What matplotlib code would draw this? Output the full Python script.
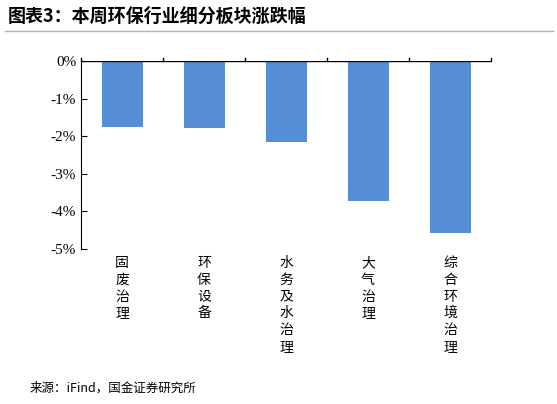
import matplotlib
matplotlib.use("Agg")
import matplotlib.pyplot as plt
from matplotlib.lines import Line2D

categories = ["固废\n治理", "环保\n设备", "水务\n及水\n治理", "大气\n治理", "综合\n环境\n治理"]
values = [-1.75, -1.78, -2.15, -3.72, -4.58]
yticks = [0, -1, -2, -3, -4, -5]

plt.rcParams['font.family'] = ['Noto Sans CJK SC', 'DejaVu Sans']
W, H = 557, 404
L, R = 81, 491
fig = plt.figure(figsize=(W/100, H/100), dpi=100)
ax = fig.add_axes([L/W, 1-249/H, (R-L)/W, (249-61)/H])
x = range(len(values))
ax.bar(x, values, width=0.5, color='#558ED5')
ax.set_xlim(-0.5, len(values)-0.5)
ax.set_ylim(-5, 0)
ax.set_yticks(yticks)
ax.set_yticklabels([f"{v}%" for v in yticks], family='Liberation Serif', fontsize=11)
ax.set_xticks([])
for s in ['top', 'right', 'bottom']:
    ax.spines[s].set_visible(False)
ax.spines['left'].set_color('black')
ax.tick_params(axis='y', direction='in', length=4)
ax.axhline(0, color='black', lw=1)
for b in [i + 0.5 for i in range(-1, len(values))]:
    ax.plot([b, b], [0, 0.08], color='black', lw=1, clip_on=False)
for i, c in enumerate(categories):
    fig.text((L + (i+0.5)*(R-L)/len(values))/W, 1-256/H, "\n".join(c.replace("\n", "")),
             ha='center', va='top', fontsize=10, linespacing=1.25)
fig.text(8/W, 1-16/H, "图表3：本周环保行业细分板块涨跌幅", fontsize=13, fontweight='heavy',
         style='italic', va='center')
fig.add_artist(Line2D([5/W, 553/W], [1-31/H, 1-31/H], color='#9DB7C9', lw=1))
fig.text(30/W, 1-388/H, "来源：iFind，国金证券研究所", fontsize=9, va='center')
fig.savefig("out.png", dpi=100)
